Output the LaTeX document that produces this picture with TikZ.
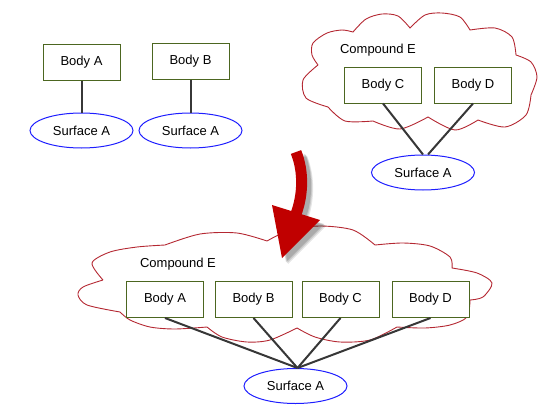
\documentclass[tikz,border=0pt]{standalone}
\usepackage{fontspec}
\setmainfont{Liberation Sans}
\usetikzlibrary{shapes.geometric}
\definecolor{boxgreen}{RGB}{76,102,32}
\definecolor{surfblue}{RGB}{30,30,255}
\definecolor{cloudred}{RGB}{180,40,50}
\definecolor{arrowred}{RGB}{192,0,0}
\definecolor{linkgray}{RGB}{55,55,55}
\begin{document}
\begin{tikzpicture}[x=1pt,y=-1pt,
  txt/.style={font=\fontsize{13}{15}\selectfont},
  bodybox/.style={txt, draw=boxgreen, line width=1pt, fill=white, minimum width=77pt, minimum height=36pt, inner sep=0pt},
  surf/.style={txt, ellipse, draw=surfblue, line width=1pt, fill=white, minimum width=103pt, minimum height=35pt, inner sep=0pt},
  link/.style={draw=linkgray, line width=2pt},
  cloudline/.style={draw=cloudred, line width=0.9pt},
  lbl/.style={txt, inner sep=0pt}]
\useasboundingbox (0,0) rectangle (560,418);
% top-right cloud
\draw[cloudline]
  plot[smooth] coordinates {(318,65)(312,55)(313,43)(327,33)(342,30)(353,32)}
  -- plot[smooth] coordinates {(353,32)(366,19)(382,14)(398,16)(410,28)}
  -- plot[smooth] coordinates {(410,28)(425,15)(442,13)(460,17)(470,30)}
  -- plot[smooth] coordinates {(470,30)(495,28)(512,37)(516,55)}
  -- plot[smooth] coordinates {(516,55)(531,62)(537,77)(531,95)}
  -- plot[smooth] coordinates {(531,95)(526,115)(505,127)(478,120)}
  -- plot[smooth] coordinates {(478,120)(455,130)(428,117)}
  -- plot[smooth] coordinates {(428,117)(400,129)(373,121)}
  -- plot[smooth] coordinates {(373,121)(345,121)(328,107)}
  -- plot[smooth] coordinates {(328,107)(306,98)(303,80)(318,65)};
% bottom cloud
\draw[cloudline]
  plot[smooth] coordinates {(103,280)(92,263)(110,252)(137,247)(165,245)}
  -- plot[smooth] coordinates {(165,245)(200,234)(237,233)(267,241)}
  -- plot[smooth] coordinates {(267,241)(290,230)(320,226)(353,230)(375,245)}
  -- plot[smooth] coordinates {(375,245)(403,243)(430,246)(450,257)(452,268)}
  -- plot[smooth] coordinates {(452,268)(477,273)(492,283)(483,297)(470,300)}
  -- plot[smooth] coordinates {(470,300)(467,317)(450,325)(425,328)(397,327)}
  -- plot[smooth] coordinates {(397,327)(370,340)(340,342)(315,337)(297,328)}
  -- plot[smooth] coordinates {(297,328)(270,340)(247,342)(222,337)(207,327)}
  -- plot[smooth] coordinates {(207,327)(175,329)(150,327)(130,320)(120,312)}
  -- plot[smooth] coordinates {(120,312)(87,305)(78,295)(83,287)(103,280)};
% top-left
\node[bodybox] (A1) at (81.5,62) {Body A};
\node[bodybox] (B1) at (190.5,61) {Body B};
\node[surf] (S1) at (81.5,130.5) {Surface A};
\node[surf] (S2) at (190.5,130.5) {Surface A};
\draw[link] (A1.south) -- (S1.north);
\draw[link] (B1.south) -- (S2.north);
% top-right
\node[lbl] (CE1) at (378,50) {Compound E};
\node[bodybox] (C1) at (383,85) {Body C};
\node[bodybox] (D1) at (473,85) {Body D};
\node[surf] (S3) at (423,172.5) {Surface A};
\draw[link] (C1.south) -- (S3.north);
\draw[link] (D1.south) -- ([xshift=5pt]S3.north);
% bottom
\node[lbl] (CE2) at (178,264) {Compound E};
\node[bodybox] (A2) at (165,299.5) {Body A};
\node[bodybox] (B2) at (253.5,299.5) {Body B};
\node[bodybox] (C2) at (340.5,299.5) {Body C};
\node[bodybox] (D2) at (430.5,299.5) {Body D};
\node[surf] (S4) at (295.5,386) {Surface A};
\coordinate (J) at ([xshift=2pt]S4.north);
\draw[link] (A2.south) -- (J);
\draw[link] (B2.south) -- (J);
\draw[link] (C2.south) -- (J);
\draw[link] (D2.south) -- (J);
% big arrow with shadow
\foreach \dx/\op in {6/0.10,5/0.12,4/0.15}{
  \begin{scope}[shift={(\dx,\dx)}, opacity=\op]
    \draw[black, line width=11pt] (296,152) .. controls (304,172) and (303,195) .. (296,214);
    \fill[black] (272,205) -- (320,220) -- (282,258) -- cycle;
  \end{scope}
}
\draw[arrowred, line width=11pt] (296,152) .. controls (304,172) and (303,195) .. (296,214);
\fill[arrowred] (272,205) -- (320,220) -- (282,258) -- cycle;
\end{tikzpicture}
\end{document}
